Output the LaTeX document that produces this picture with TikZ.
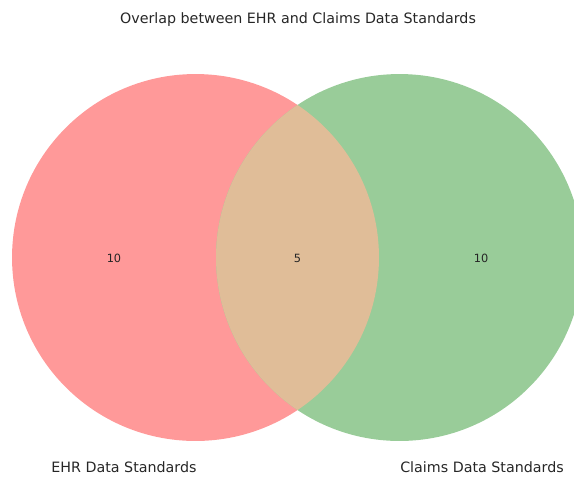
\documentclass[tikz,border=0pt]{standalone}
\usepackage{fontspec}
\setmainfont{DejaVu Sans}
\usetikzlibrary{positioning}
\definecolor{ehrpink}{HTML}{FF9999}
\definecolor{claimgreen}{HTML}{99CC99}
\definecolor{bothtan}{HTML}{E0BD98}

\begin{document}
\begin{tikzpicture}[x=0.75pt,y=-0.75pt,
	every node/.style={inner sep=0pt,text=black!85},
	setlabel/.style={font=\fontsize{10.7}{13}\selectfont},
	count/.style={font=\fontsize{8.5}{10}\selectfont}]
	\useasboundingbox (0,0) rectangle (574,476);
	\clip (0,0) rectangle (574,476);
	\coordinate (ehr) at (195.5,257.5);
	\coordinate (claims) at (399.5,257.5);
	\fill[ehrpink] (ehr) circle[radius=137.6pt];
	\fill[claimgreen] (claims) circle[radius=137.6pt];
	\begin{scope}
		\clip (ehr) circle[radius=137.6pt];
		\fill[bothtan] (claims) circle[radius=137.6pt];
	\end{scope}
	\node[count] (onlyehr) at (114,258) {10};
	\node[count] (both) at (297.5,258) {5};
	\node[count] (onlyclaims) at (481,258) {10};
	\node[setlabel] (ehrname) at (124,467) {EHR Data Standards};
	\node[setlabel] (claimsname) at (482,467) {Claims Data Standards};
	\node[setlabel] (title) at (298,20) {Overlap between EHR and Claims Data Standards};
\end{tikzpicture}
\end{document}
